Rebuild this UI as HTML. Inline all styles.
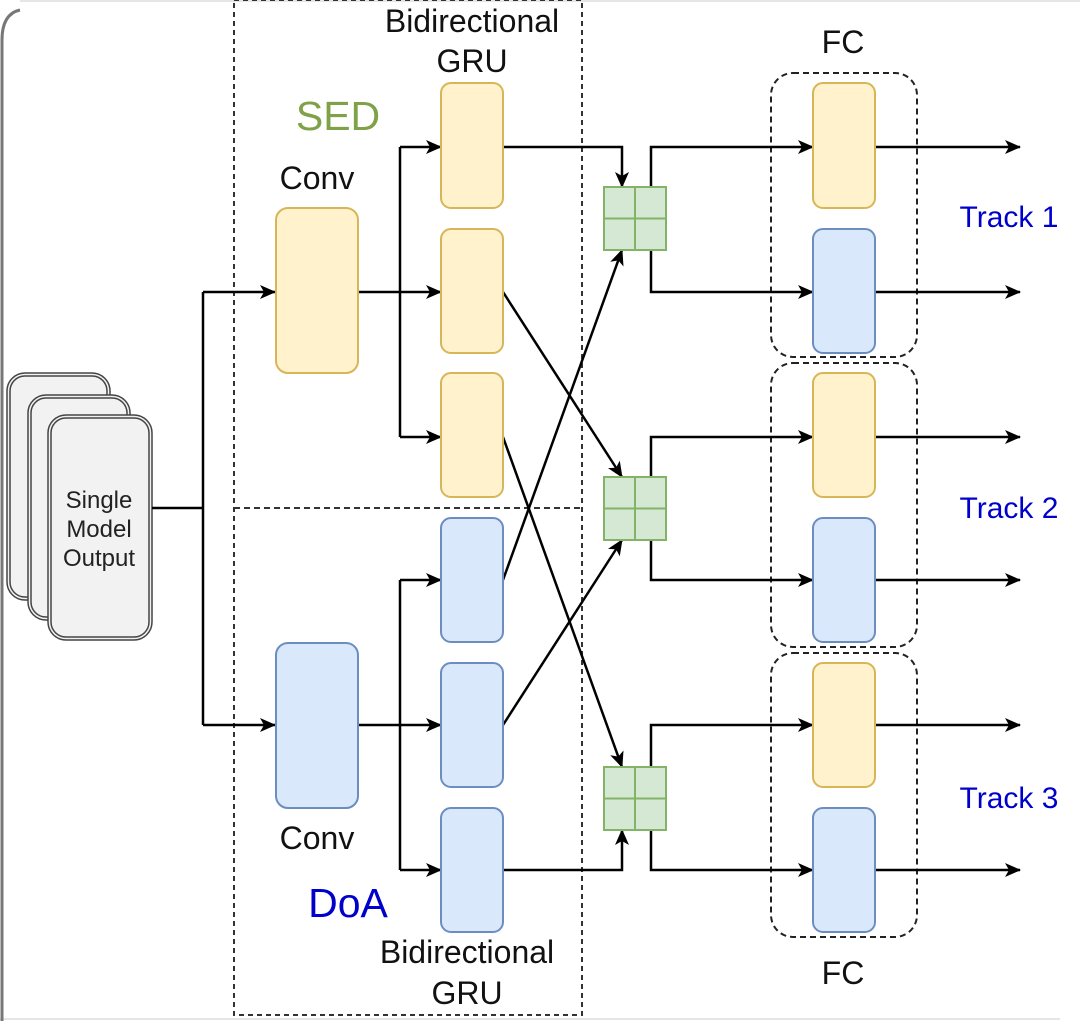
<!DOCTYPE html>
<html><head><meta charset="utf-8"><style>
html,body{margin:0;padding:0;background:#fff;}
svg{display:block;}
text{font-family:"Liberation Sans",Arial,sans-serif;}
</style></head><body>
<svg width="1080" height="1021" viewBox="0 0 1080 1021" xmlns="http://www.w3.org/2000/svg">
<defs>
<marker id="a" markerWidth="16" markerHeight="14" refX="15" refY="7" orient="auto" markerUnits="userSpaceOnUse">
<path d="M0,0 L16,7 L0,14 L4,7 Z" fill="#000"/>
</marker>
</defs>
<rect x="0" y="0" width="1080" height="1021" fill="#fff"/>
<line x1="20" y1="1" x2="1080" y2="1" stroke="#e6e6e6" stroke-width="2"/>
<line x1="0" y1="1019" x2="1060" y2="1019" stroke="#e6e6e6" stroke-width="2"/>
<path d="M2,1021 L2,40 Q2,14 20,10" fill="none" stroke="#777" stroke-width="3"/>

<g fill="#f2f2f2" stroke="#444" stroke-width="1.5">
<rect x="7" y="373" width="103" height="227" rx="18"/>
<rect x="10" y="376" width="97" height="221" rx="15"/>
<rect x="28" y="395" width="102" height="225" rx="18"/>
<rect x="31" y="398" width="96" height="219" rx="15"/>
<rect x="48" y="415" width="104" height="225" rx="18"/>
<rect x="51" y="418" width="98" height="219" rx="15"/>
</g>
<g font-size="24" fill="#222" text-anchor="middle">
<text x="99" y="508">Single</text>
<text x="99" y="537">Model</text>
<text x="99" y="566">Output</text>
</g>

<rect x="234" y="0" width="348" height="1015" fill="none" stroke="#333" stroke-width="2" stroke-dasharray="5,4"/>
<line x1="234" y1="508" x2="582" y2="508" stroke="#333" stroke-width="2" stroke-dasharray="6,4"/>
<g fill="none" stroke="#222" stroke-width="2" stroke-dasharray="6,4">
<rect x="771" y="73" width="146" height="284" rx="22"/>
<rect x="771" y="363" width="146" height="284" rx="22"/>
<rect x="771" y="653" width="146" height="284" rx="22"/>
</g>

<g fill="none" stroke="#000" stroke-width="2.5">
<path d="M152,508 L203,508"/>
<path d="M203,292 L203,725"/>
<path d="M203,292 L275,292" marker-end="url(#a)"/>
<path d="M203,725 L275,725" marker-end="url(#a)"/>
<path d="M358,292 L441,292" marker-end="url(#a)"/>
<path d="M400,147 L400,437"/>
<path d="M400,147 L441,147" marker-end="url(#a)"/>
<path d="M400,437 L441,437" marker-end="url(#a)"/>
<path d="M358,725 L441,725" marker-end="url(#a)"/>
<path d="M400,580 L400,870"/>
<path d="M400,580 L441,580" marker-end="url(#a)"/>
<path d="M400,870 L441,870" marker-end="url(#a)"/>

<path d="M503,147 L622,147 L622,187" marker-end="url(#a)"/>
<path d="M503,292 L622,477" marker-end="url(#a)"/>
<path d="M503,437 L622,767" marker-end="url(#a)"/>
<path d="M503,580 L622,250" marker-end="url(#a)"/>
<path d="M503,725 L622,540" marker-end="url(#a)"/>
<path d="M503,870 L622,870 L622,830" marker-end="url(#a)"/>

<path d="M651,187 L651,147 L813,147" marker-end="url(#a)"/>
<path d="M651,250 L651,292 L813,292" marker-end="url(#a)"/>
<path d="M651,477 L651,437 L813,437" marker-end="url(#a)"/>
<path d="M651,540 L651,580 L813,580" marker-end="url(#a)"/>
<path d="M651,767 L651,725 L813,725" marker-end="url(#a)"/>
<path d="M651,830 L651,870 L813,870" marker-end="url(#a)"/>

<path d="M875,147 L1020,147" marker-end="url(#a)"/>
<path d="M875,292 L1020,292" marker-end="url(#a)"/>
<path d="M875,437 L1020,437" marker-end="url(#a)"/>
<path d="M875,580 L1020,580" marker-end="url(#a)"/>
<path d="M875,725 L1020,725" marker-end="url(#a)"/>
<path d="M875,870 L1020,870" marker-end="url(#a)"/>
</g>

<g fill="#fff2cc" stroke="#d6b656" stroke-width="2">
<rect x="276" y="208" width="82" height="165" rx="12"/>
<rect x="441" y="83" width="62" height="125" rx="10"/>
<rect x="441" y="229" width="62" height="124" rx="10"/>
<rect x="441" y="373" width="62" height="124" rx="10"/>
<rect x="813" y="83" width="62" height="125" rx="10"/>
<rect x="813" y="373" width="62" height="124" rx="10"/>
<rect x="813" y="663" width="62" height="124" rx="10"/>
</g>
<g fill="#dae8fc" stroke="#6c8ebf" stroke-width="2">
<rect x="276" y="643" width="82" height="165" rx="12"/>
<rect x="441" y="518" width="62" height="124" rx="10"/>
<rect x="441" y="663" width="62" height="124" rx="10"/>
<rect x="441" y="808" width="62" height="124" rx="10"/>
<rect x="813" y="229" width="62" height="124" rx="10"/>
<rect x="813" y="518" width="62" height="124" rx="10"/>
<rect x="813" y="808" width="62" height="124" rx="10"/>
</g>

<g fill="#d5e8d4" stroke="#82b366" stroke-width="2">
<rect x="604" y="187" width="62" height="63"/>
<path d="M635,187 V250 M604,218.5 H666" fill="none"/>
<rect x="604" y="477" width="62" height="63"/>
<path d="M635,477 V540 M604,508.5 H666" fill="none"/>
<rect x="604" y="767" width="62" height="63"/>
<path d="M635,767 V830 M604,798.5 H666" fill="none"/>
</g>

<g font-size="32" fill="#111" text-anchor="middle">
<text x="472" y="32">Bidirectional</text>
<text x="472" y="72">GRU</text>
<text x="317" y="189">Conv</text>
<text x="317" y="849">Conv</text>
<text x="467" y="963">Bidirectional</text>
<text x="467" y="1004">GRU</text>
<text x="843" y="53">FC</text>
<text x="843" y="984">FC</text>
</g>
<text x="338" y="130" font-size="41" fill="#7fa147" text-anchor="middle">SED</text>
<text x="348" y="917" font-size="41" fill="#0000cc" text-anchor="middle">DoA</text>
<g font-size="30" fill="#0000cc" text-anchor="middle">
<text x="1009" y="227">Track 1</text>
<text x="1009" y="518">Track 2</text>
<text x="1009" y="808">Track 3</text>
</g>
</svg>
</body></html>
